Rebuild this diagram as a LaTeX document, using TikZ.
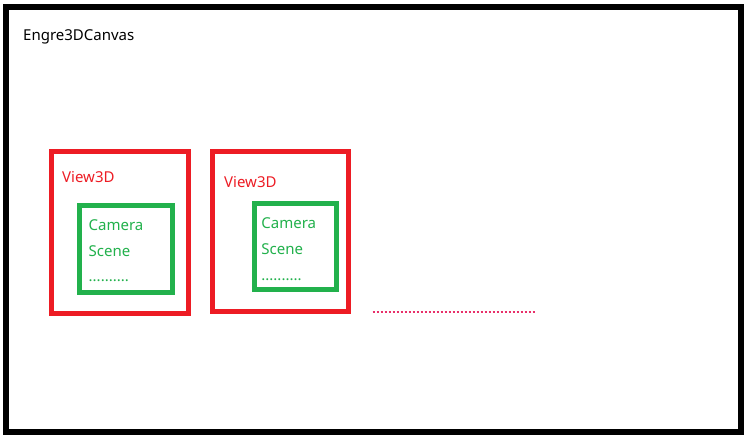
\documentclass[tikz,border=0pt]{standalone}
\usepackage{fontspec}
\setmainfont{Noto Sans}
\definecolor{pred}{HTML}{ED1C24}
\definecolor{pgreen}{HTML}{22B14C}
\definecolor{pdot}{HTML}{E8306A}
\begin{document}
\begin{tikzpicture}[x=1pt,y=-1pt,
  frame/.style={draw=black,line width=6pt},
  viewbox/.style={draw=pred,line width=5pt},
  innerbox/.style={draw=pgreen,line width=4.6pt},
  lbl/.style={anchor=base west,inner sep=0pt,font=\fontsize{15}{18}\selectfont},
  redtxt/.style={lbl,text=pred},
  greentxt/.style={lbl,text=pgreen}]
\useasboundingbox (0,0) rectangle (748,439);
\fill[white] (0,0) rectangle (748,439);
\draw[frame] (6,7) rectangle (740.5,431.5);
\node[lbl] (canvas) at (23,40) {Engre3DCanvas};
% View 1
\draw[viewbox] (51.5,151.5) rectangle (188,313);
\node[redtxt] (v1) at (62,182.7) {View3D};
\draw[innerbox] (79.5,205.7) rectangle (172.3,292.3);
\node[greentxt] (c1) at (88.5,230) {Camera};
\node[greentxt] (s1) at (88.5,256) {Scene};
\node[greentxt] (d1) at (88.5,281.5) {..........};
% View 2
\draw[viewbox] (212.5,151) rectangle (348.5,311.8);
\node[redtxt] (v2) at (224,187.3) {View3D};
\draw[innerbox] (254.7,203.7) rectangle (336.3,289.2);
\node[greentxt] (c2) at (261.2,228.7) {Camera};
\node[greentxt] (s2) at (261.2,254.3) {Scene};
\node[greentxt] (d2) at (261.2,280.2) {..........};
% trailing dots
\coordinate (t1) at (372.5,311.7);
\coordinate (t2) at (536,311.7);
\draw[pdot,line width=2pt,dash pattern=on 2pt off 2pt] (t1) -- (t2);
\end{tikzpicture}
\end{document}
